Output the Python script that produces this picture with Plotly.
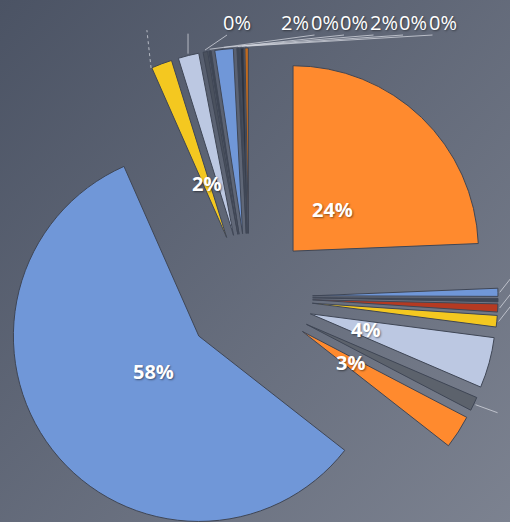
import math
import plotly.graph_objects as go

# ---- data (clockwise from 12 o'clock) ----
categories = ["C1", "C2", "C3", "C4", "C5", "C6", "C7", "C8", "C9",
              "C10", "C11", "C12", "C13", "C14", "C15", "C16", "C17"]
values = [24.3, 0.7, 0.3, 0.7, 1.0, 4.4, 1.2, 2.9, 57.7,
          1.8, 1.8, 0.4, 0.2, 1.6, 0.2, 0.3, 0.3]
colors = ["#FF8A2E", "#7097D8", "#3E4654", "#B53A22", "#F4C820", "#BCC8E2", "#5C626C", "#FF8A2E", "#7097D8",
          "#F4C820", "#BCC8E2", "#4A515E", "#3E4654", "#7097D8", "#3E4654", "#2E3440", "#C06A1E"]
# label style per slice: "in" = label on the slice, "side" = leader line off to the right
label_kind = ["in", "side", "", "side", "side", "in", "side", "in", "in",
              "in", "top", "top", "top", "top", "top", "top", "top"]
# position of each top-group slice's label in the row of labels above the chart
row_slot = [None, None, None, None, None, None, None, None, None,
            None, 1, 0, 2, 4, 3, 5, 6]

PULL = 0.343
W, H = 510, 546
ml, mr, mt, mb = 0, 12, 48, 0
pw, ph = W - ml - mr, H - mt - mb

# pie geometry in pixels (same rules plotly uses: r = min(w,h)/2 / (1+maxPull))
cx, cy = ml + pw / 2, mt + ph / 2
R = min(pw, ph) / 2 / (1 + PULL)
total = sum(values)


def px2paper(x, y):
    return (x - ml) / pw, 1 - (y - mt) / ph


def polar(dist, ang):
    a = math.radians(ang)
    return cx + dist * math.sin(a), cy - dist * math.cos(a)


fig = go.Figure()
fig.add_trace(go.Pie(
    labels=categories, values=values, sort=False, direction="clockwise", rotation=0,
    pull=PULL,
    marker=dict(colors=colors, line=dict(color="#3F4655", width=1)),
    textinfo="none",
    showlegend=False, hoverinfo="label+percent",
))

inside_font = dict(family="Open Sans", size=20, color="white", weight="bold",
                   shadow="1px 1px 2px rgba(0,0,0,0.45)")
row_font = dict(family="Open Sans", size=20, color="white",
                shadow="1px 1px 2px rgba(0,0,0,0.45)")
line_style = dict(color="rgba(215,218,225,0.75)", width=1)

annots, shapes = [], []
row_x = [237, 295, 324.5, 354, 383.5, 413, 442.5]
row_y = 22


def seg(p0, p1, dash="solid"):
    x0, y0 = px2paper(*p0)
    x1, y1 = px2paper(*p1)
    shapes.append(dict(type="line", xref="paper", yref="paper", x0=x0, y0=y0, x1=x1, y1=y1,
                       line=dict(line_style, dash=dash)))


start = 0.0
for v, kind, slot in zip(values, label_kind, row_slot):
    ang = v / total * 360
    mid = start + ang / 2
    start += ang
    txt = f"{round(100 * v / total):d}%"
    tip = polar(R * (PULL + 1.01), mid)
    if kind == "in":
        x, y = px2paper(*polar(R * (PULL + 0.31), mid))
        annots.append(dict(x=x, y=y, xref="paper", yref="paper", text=txt, showarrow=False,
                           xanchor="center", yanchor="middle", font=inside_font))
        if mid > 330:  # small inside-labelled slice near the top also gets a leader line
            seg(polar(R * (PULL + 1.0), start - ang * 0.9), (tip[0] - 14, tip[1] - 32), dash="dot")
    elif kind == "top":
        lx = row_x[slot]
        x, y = px2paper(lx, row_y)
        annots.append(dict(x=x, y=y, xref="paper", yref="paper", text=txt, showarrow=False,
                           xanchor="center", yanchor="middle", font=row_font))
        if slot == 1:
            seg(tip, (tip[0], tip[1] - 20))
        else:
            seg(tip, (lx - 10, row_y + 13))
    elif kind == "side":
        dy = -28 if mid < 100 else 8
        seg(tip, (tip[0] + 22, tip[1] + dy))

svg = ("data:image/svg+xml;utf8,<svg xmlns='http://www.w3.org/2000/svg' width='510' height='546'>"
       "<defs><linearGradient id='g' x1='0' y1='0' x2='1' y2='1'>"
       "<stop offset='0' stop-color='%234B5364'/><stop offset='1' stop-color='%237D8391'/>"
       "</linearGradient></defs><rect width='510' height='546' fill='url(%23g)'/></svg>")

fig.update_layout(
    width=W, height=H,
    margin=dict(l=ml, r=mr, t=mt, b=mb),
    paper_bgcolor="#626978",
    annotations=annots,
    shapes=shapes,
    images=[dict(source=svg, xref="paper", yref="paper", x=-ml / pw, y=1 + mt / ph,
                 sizex=W / pw, sizey=H / ph, sizing="stretch", layer="below",
                 xanchor="left", yanchor="top")],
)

fig.write_html("out.html",
               post_script="document.documentElement.style.overflow='hidden';document.body.style.overflow='hidden';")
